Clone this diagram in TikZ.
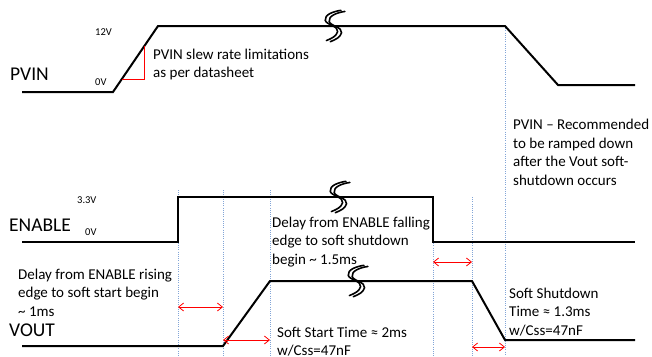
\documentclass[tikz,border=0pt]{standalone}
\usepackage{fontspec}
\setmainfont{Carlito}
\usetikzlibrary{arrows.meta,calc}
\begin{document}
\begin{tikzpicture}[x=1pt,y=-1pt,
  sig/.style={line width=2pt,line join=miter},
  guide/.style={draw={rgb,255:red,130;green,165;blue,215},line width=0.8pt,dash pattern=on 1pt off 1.2pt},
  dly/.style={draw=red,line width=0.8pt,{Straight Barb[length=5pt,width=8pt]}-{Straight Barb[length=5pt,width=8pt]}},
  note/.style={font=\fontsize{15}{18.5}\selectfont,align=left,anchor=base west,inner sep=0pt},
  siglabel/.style={font=\fontsize{19.5}{22}\selectfont,anchor=base west,inner sep=0pt},
  lvl/.style={font=\fontsize{10.5}{12}\selectfont,anchor=base west,inner sep=0pt},
  brkline/.style={line width=1.6pt,line cap=round},
  brk/.pic={\begin{scope}[scale=1.12]
            \draw[brkline] (8,-14) .. controls (1,-13) and (-7,-10) .. (-6,-5) .. controls (-5,-1) and (6,0) .. (5,5) .. controls (4,9) and (0,11) .. (-5,13);
            \draw[brkline] (11.5,-13) .. controls (4.5,-12) and (-3.5,-9) .. (-2.5,-4) .. controls (-1.5,0) and (9.5,1) .. (8.5,6) .. controls (7.5,10) and (3.5,12) .. (-1.5,14);
            \end{scope}}
]
\useasboundingbox (0,0) rectangle (652,356);
% coordinates
\coordinate (p0) at (22,92); \coordinate (p1) at (113,92); \coordinate (p2) at (158,26);
\coordinate (p3) at (505,26); \coordinate (p4) at (558,85); \coordinate (p5) at (635,85);
\coordinate (e0) at (22,242); \coordinate (e1) at (178,242); \coordinate (e2) at (178,197);
\coordinate (e3) at (433,197); \coordinate (e4) at (433,242); \coordinate (e5) at (635,242);
\coordinate (v0) at (22,346); \coordinate (v1) at (223,346); \coordinate (v2) at (270,281);
\coordinate (v3) at (472,281); \coordinate (v4) at (505,340); \coordinate (v5) at (635,340);
% guide lines
\coordinate (g1t) at (178,190); \coordinate (g1b) at (178,356);
\coordinate (g2t) at (223,190); \coordinate (g2b) at (223,356);
\coordinate (g3t) at (270,190); \coordinate (g3b) at (270,356);
\coordinate (g4t) at (433,197); \coordinate (g4b) at (433,356);
\coordinate (g5t) at (472,197); \coordinate (g5b) at (472,356);
\coordinate (g6b) at (505,356);
\draw[guide] (g1t) -- (g1b);
\draw[guide] (g2t) -- (g2b);
\draw[guide] (g3t) -- (g3b);
\draw[guide] (g4t) -- (g4b);
\draw[guide] (g5t) -- (g5b);
\draw[guide] (p3) -- (g6b);
% waveforms
\draw[sig] (p0) -- (p1) -- (p2) -- (p3) -- (p4) -- (p5);
\draw[sig] (e0) -- (e1) -- (e2) -- (e3) -- (e4) -- (e5);
\draw[sig] (v0) -- (v1) -- (v2) -- (v3) -- (v4) -- (v5);
% breaks
\pic at (332,26) {brk};
\pic at (337,197) {brk};
\pic at (355,281) {brk};
% slew triangle
\coordinate (sA) at ($(p1)!0.70!(p2)$);
\coordinate (sB) at ($(p1)!0.197!(p2)$);
\coordinate (sC) at (sA |- sB);
\draw[red,line width=0.8pt] (sA) -- (sC) -- (sB);
% delay arrows
\coordinate (d1a) at (178,307); \coordinate (d1b) at (223,307);
\coordinate (d2a) at (223,340); \coordinate (d2b) at (270,340);
\coordinate (d3a) at (433,262); \coordinate (d3b) at (472,262);
\coordinate (d4a) at (472,347); \coordinate (d4b) at (505,347);
\draw[dly] (d1a) -- (d1b);
\draw[dly] (d2a) -- (d2b);
\draw[dly] (d3a) -- (d3b);
\draw[dly] (d4a) -- (d4b);
% labels
\node[siglabel] (lpvin) at (10,80) {PVIN};
\node[siglabel] (len) at (9,231) {ENABLE};
\node[siglabel] (lvout) at (9,336) {VOUT};
\node[lvl] (l12) at (95,35) {12V};
\node[lvl] (l0a) at (95,85) {0V};
\node[lvl] (l33) at (77,203) {3.3V};
\node[lvl] (l0b) at (85,235) {0V};
% notes (anchored at the baseline of the last line)
\node[note] (n1) at (153,77.5) {PVIN slew rate limitations\\as per datasheet};
\node[note] (n2) at (513,185) {PVIN – Recommended\\to be ramped down\\after the Vout soft-\\shutdown occurs};
\node[note] (n3) at (272,264) {Delay from ENABLE falling\\edge to soft shutdown\\begin \textasciitilde{} 1.5ms};
\node[note] (n4) at (18,316) {Delay from ENABLE rising\\edge to soft start begin\\\textasciitilde{} 1ms};
\node[note] (n5) at (277,355.5) {Soft Start Time ≈ 2ms\\w/Css=47nF};
\node[note] (n6) at (509,335) {Soft Shutdown\\Time ≈ 1.3ms\\w/Css=47nF};
\end{tikzpicture}
\end{document}
